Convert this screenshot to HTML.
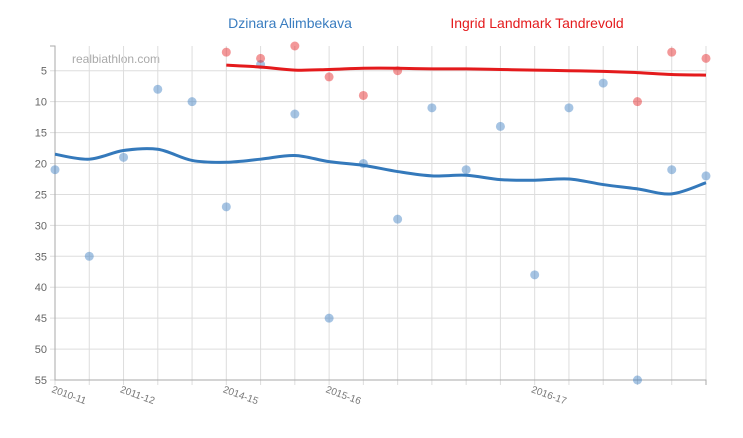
<!DOCTYPE html>
<html><head><meta charset="utf-8"><style>
body{margin:0;background:#fff;font-family:"Liberation Sans",sans-serif}
svg text{font-family:"Liberation Sans",sans-serif}
</style></head><body>
<svg id="c" width="743" height="433">
<text x="290" y="28" text-anchor="middle" font-size="14" fill="#3a7dc0">Dzinara Alimbekava</text>
<text x="537" y="28" text-anchor="middle" font-size="14" fill="#e41a1c">Ingrid Landmark Tandrevold</text>
<text x="72" y="63" font-size="12" fill="#aaa">realbiathlon.com</text>
<g id="grid"></g><g id="axes"></g><g id="marks"></g>
</svg>
<script>
const seasons=["2010-11","","2011-12","","","2014-15","","","2015-16","","","","","","2016-17","","","","",""];
const yTicks=[5,10,15,20,25,30,35,40,45,50,55];
const blueRanks=[21,35,19,8,10,27,4,12,45,20,29,11,21,14,38,11,7,55,21,22];
const blueTrend=[18.5,19.3,17.9,17.7,19.5,19.8,19.3,18.7,19.7,20.3,21.3,22,21.9,22.6,22.7,22.5,23.4,24.1,24.9,23.1];
const redIdx=[5,6,7,8,9,10,17,18,19];
const redRanks=[2,3,1,6,9,5,10,2,3];
const redTrendIdx=[5,6,7,8,9,10,11,12,13,14,15,16,17,18,19];
const redTrend=[4.1,4.4,4.9,4.8,4.6,4.6,4.7,4.7,4.8,4.9,5,5.1,5.3,5.6,5.7];
const NS="http://www.w3.org/2000/svg";
const x0=55,x1=706,yTop=46,yBot=380;
const xs=i=>x0+i*(x1-x0)/(seasons.length-1);
const ys=r=>yTop+(r-1)*(yBot-yTop)/54;
function mk(t,a,p){const e=document.createElementNS(NS,t);for(const k in a)e.setAttribute(k,a[k]);p.appendChild(e);return e;}
const grid=document.getElementById('grid'),axes=document.getElementById('axes'),marks=document.getElementById('marks');
seasons.forEach((s,i)=>{
 const l=mk('line',{x1:xs(i),x2:xs(i),y1:yTop,y2:yBot+5,stroke:'#ddd'},grid);
 
 
 if(s){const t=mk('text',{x:xs(i)-4,y:yBot+12,'font-size':10,fill:'#777',transform:`rotate(20 ${xs(i)-4} ${yBot+12})`},axes);t.textContent=s;
 
 }
});
yTicks.forEach(v=>{
 const l=mk('line',{x1:x0-5,x2:x1,y1:ys(v),y2:ys(v),stroke:'#ddd'},grid);
 
 
 const t=mk('text',{x:x0-8,y:ys(v)+4,'font-size':11,fill:'#666','text-anchor':'end'},axes);t.textContent=v;
 
 
});
const ya=mk('path',{d:`M${x0-5},${yTop}H${x0}V${yBot}H${x1}V${yBot+5}`,stroke:'#aaa',fill:'none'},axes);


function spline(p){let d=`M${p[0][0]},${p[0][1]}`;for(let i=0;i<p.length-1;i++){const a=p[Math.max(i-1,0)],b=p[i],c=p[i+1],e=p[Math.min(i+2,p.length-1)];
 d+=`C${b[0]+(c[0]-a[0])/6},${b[1]+(c[1]-a[1])/6} ${c[0]-(e[0]-b[0])/6},${c[1]-(e[1]-b[1])/6} ${c[0]},${c[1]}`;}return d;}
blueRanks.forEach((r,i)=>{const c=mk('circle',{cx:xs(i),cy:ys(r),r:4.5,fill:'#3a7dc0','fill-opacity':0.45},marks);
 
 });
redRanks.forEach((r,k)=>{const c=mk('circle',{cx:xs(redIdx[k]),cy:ys(r),r:4.5,fill:'#e41a1c','fill-opacity':0.45},marks);
 
 });
const bl=mk('path',{d:spline(blueTrend.map((r,i)=>[xs(i),ys(r)])),stroke:'#3479bb','stroke-width':3,fill:'none'},marks);


const rl=mk('path',{d:spline(redTrend.map((r,k)=>[xs(redTrendIdx[k]),ys(r)])),stroke:'#e41a1c','stroke-width':3,fill:'none'},marks);


</script>
</body></html>
